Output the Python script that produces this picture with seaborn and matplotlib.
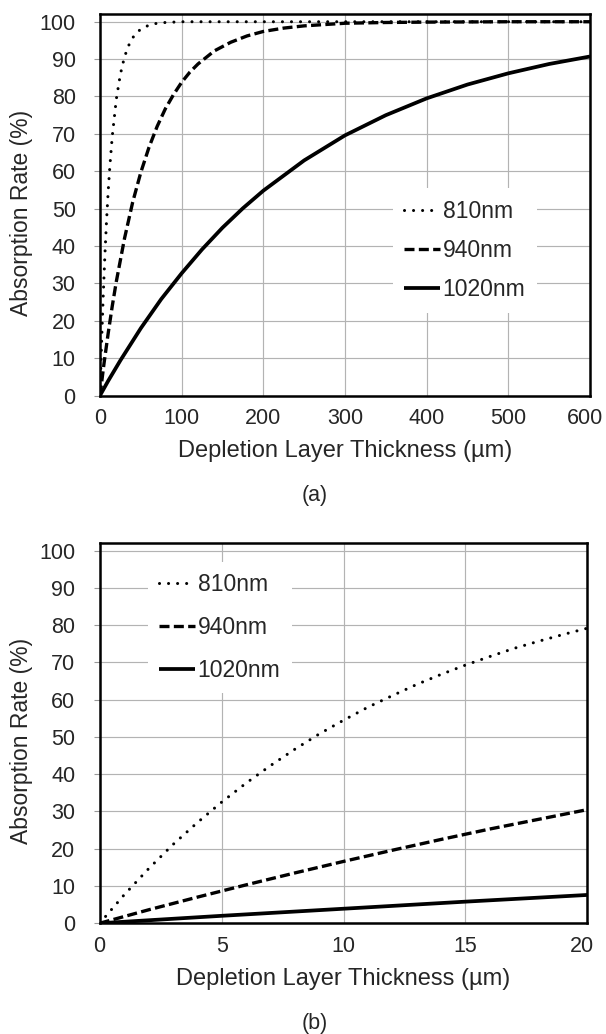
import numpy as np
import pandas as pd
import matplotlib
matplotlib.use("Agg")
import matplotlib.pyplot as plt
import matplotlib.transforms as mtransforms
import seaborn as sns

# ------------------------------------------------------------------
# data (absorption rate in %)
# ------------------------------------------------------------------
labels = ["810nm", "940nm", "1020nm"]

# panel (a): 0 - 600 um
x_810_a = [0, 2, 4, 6, 8, 10, 12, 15, 20, 25, 30, 35, 40, 45, 50, 60, 70, 80, 100, 150, 200, 300, 400, 500, 600]
y_810_a = [0, 14.6, 27.0, 37.6, 46.7, 54.5, 61.1, 69.3, 79.3, 86.0, 90.6, 93.6, 95.7, 97.1, 98.0, 99.1, 99.6, 99.8, 100, 100, 100, 100, 100, 100, 100]

x_940_a = [0, 5, 10, 15, 20, 30, 40, 50, 60, 70, 80, 90, 100, 110, 120, 140, 160, 180, 200, 225, 250, 300, 350, 400, 500, 600]
y_940_a = [0, 8.7, 16.6, 23.9, 30.5, 42.0, 51.7, 59.7, 66.4, 72.0, 76.7, 80.5, 83.8, 86.5, 88.7, 92.2, 94.5, 96.2, 97.4, 98.3, 98.9, 99.6, 99.8, 99.9, 100, 100]

x_1020_a = [0, 10, 25, 50, 75, 100, 125, 150, 175, 200, 250, 300, 350, 400, 450, 500, 550, 600]
y_1020_a = [0, 3.9, 9.4, 18.0, 25.8, 32.7, 39.1, 44.9, 50.1, 54.8, 62.9, 69.6, 75.0, 79.5, 83.2, 86.2, 88.7, 90.7]

# panel (b): 0 - 20 um
x_810_b = list(range(0, 21))
y_810_b = [0, 7.6, 14.6, 21.1, 27.0, 32.5, 37.6, 42.3, 46.7, 50.8, 54.5,
           58.0, 61.1, 64.1, 66.8, 69.3, 71.6, 73.8, 75.7, 77.5, 79.2]

x_940_b = [0, 2, 4, 6, 8, 10, 12, 14, 16, 18, 20]
y_940_b = [0, 3.6, 7.0, 10.3, 13.5, 16.6, 19.6, 22.5, 25.3, 27.9, 30.5]

x_1020_b = [0, 5, 10, 15, 20]
y_1020_b = [0, 2.0, 3.9, 5.8, 7.6]

y_ticks = [0, 10, 20, 30, 40, 50, 60, 70, 80, 90, 100]
x_ticks_a = [0, 100, 200, 300, 400, 500, 600]
x_ticks_b = [0, 5, 10, 15, 20]

# ------------------------------------------------------------------
# style
# ------------------------------------------------------------------
sns.set_style("white")
plt.rcParams["font.family"] = ["Liberation Sans", "DejaVu Sans"]

styles = {
    "810nm": dict(lw=2.2, linestyle=(0, (0.01, 2.95)), dash_capstyle="round"),
    "940nm": dict(lw=2.4, linestyle=(0, (3.0, 1.3)), dash_capstyle="butt"),
    "1020nm": dict(lw=2.7, linestyle="-", solid_capstyle="butt"),
}

FS_TICK = 15.5
FS_LABEL = 17
FS_YLABEL = 16.5
FS_LEG = 16.5

fig = plt.figure(figsize=(6.06, 10.34), dpi=100)
ax_a = fig.add_axes([0.165, 0.6175, 0.8086, 0.3687])
ax_b = fig.add_axes([0.1645, 0.1071, 0.8048, 0.3675])


def draw(ax, series, xlim, xticks, leg_anchor, leg_spacing):
    for lab, (xs, ys) in zip(labels, series):
        df = pd.DataFrame({"x": xs, "y": ys})
        sns.lineplot(data=df, x="x", y="y", ax=ax, color="black",
                     label=lab, **styles[lab])
    ax.set_xlim(*xlim)
    ax.set_ylim(0, 102)
    ax.set_xticks(xticks)
    ax.set_yticks(y_ticks)
    ax.grid(True, color="#b3b3b3", lw=0.85)
    ax.set_axisbelow(True)
    for sp in ax.spines.values():
        sp.set_color("black")
        sp.set_linewidth(1.8)
    ax.tick_params(axis="y", length=4.5, width=0.8, color="#999999",
                   pad=13, labelsize=FS_TICK, left=True)
    ax.tick_params(axis="x", length=0, pad=9, labelsize=FS_TICK)
    ax.set_xlabel("Depletion Layer Thickness (µm)", fontsize=FS_LABEL, labelpad=8)
    ax.set_ylabel("Absorption Rate (%)", fontsize=FS_YLABEL)
    ax.yaxis.set_label_coords(-0.137, 0.48)
    leg = ax.legend(loc="upper left", bbox_to_anchor=leg_anchor,
                    borderaxespad=0, frameon=True, fancybox=False,
                    facecolor="white", edgecolor="none", framealpha=1,
                    fontsize=FS_LEG, handlelength=1.55, handletextpad=0.12,
                    labelspacing=leg_spacing, borderpad=0.5)
    # nudge the right-most tick label inward so it stays inside the figure
    last = ax.get_xticklabels()[-1]
    last.set_transform(last.get_transform() +
                       mtransforms.ScaledTranslation(-5 / 100, 0, fig.dpi_scale_trans))
    return leg


draw(ax_a, [(x_810_a, y_810_a), (x_940_a, y_940_a), (x_1020_a, y_1020_a)],
     (0, 600), x_ticks_a, (0.598, 0.544), 0.71)
draw(ax_b, [(x_810_b, y_810_b), (x_940_b, y_940_b), (x_1020_b, y_1020_b)],
     (0, 20), x_ticks_b, (0.099, 0.951), 0.86)

fig.text(315 / 606, 1 - 495 / 1034, "(a)", ha="center", va="center", fontsize=FS_TICK)
fig.text(315 / 606, 1 - 1023 / 1034, "(b)", ha="center", va="center", fontsize=FS_TICK)

fig.savefig("out.png", dpi=100, facecolor="white")
